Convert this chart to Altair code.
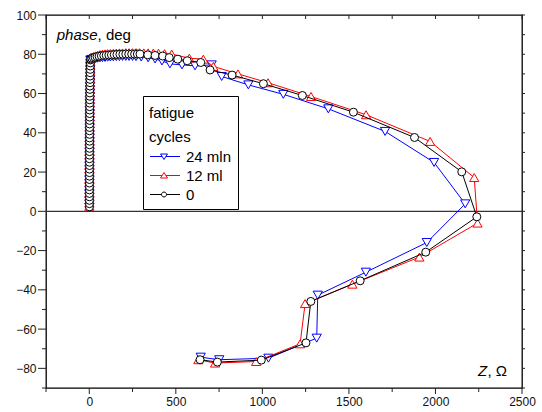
import altair as alt
import pandas as pd

# ---------------- data ----------------
series_names = ["24 mln", "12 ml", "0"]
series_colors = ["#0000ff", "#ff0000", "#000000"]
series_shapes = ["triangle-down", "triangle-up", "circle"]

# near-vertical column at Z ~ 0
stack_z = [0.8, 0.8, 0.9, 0.9, 0.9, 1.0, 1.0, 1.0, 1.1, 1.1, 1.2, 1.2, 1.3, 1.3, 1.4,
           1.4, 1.5, 1.6, 1.6, 1.7, 1.8, 1.9, 2.0, 2.1, 2.2, 2.3, 2.4, 2.6, 2.7, 2.9,
           3.0, 3.2, 3.4, 3.6, 3.8, 4.0, 4.3, 4.5, 4.8, 5.1, 5.4, 5.7, 6.0, 6.4]
stack_ph_24 = [2.0, 3.6, 5.3, 7.1, 8.8, 10.6, 12.3, 14.1, 15.9, 17.6, 19.4, 21.2, 23.0, 24.7,
               26.5, 28.3, 30.1, 31.8, 33.6, 35.4, 37.1, 38.9, 40.7, 42.4, 44.2, 46.0, 47.7,
               49.5, 51.3, 53.0, 54.8, 56.5, 58.3, 60.0, 61.8, 63.5, 65.2, 66.9, 68.6, 70.3,
               72.0, 73.7, 75.3, 76.8]
stack_ph_12 = [2.6, 4.2, 5.9, 7.7, 9.4, 11.2, 12.9, 14.7, 16.5, 18.2, 20.0, 21.8, 23.6, 25.3,
               27.1, 28.9, 30.7, 32.4, 34.2, 36.0, 37.7, 39.5, 41.3, 43.0, 44.8, 46.6, 48.3,
               50.1, 51.9, 53.6, 55.4, 57.1, 58.9, 60.6, 62.4, 64.1, 65.8, 67.6, 69.3, 71.1,
               72.8, 74.6, 76.3, 77.9]
stack_ph_0 = [2.3, 3.9, 5.6, 7.4, 9.1, 10.9, 12.6, 14.4, 16.2, 17.9, 19.7, 21.5, 23.3, 25.0,
              26.8, 28.6, 30.4, 32.1, 33.9, 35.7, 37.4, 39.2, 41.0, 42.7, 44.5, 46.3, 48.0,
              49.8, 51.6, 53.3, 55.1, 56.8, 58.6, 60.3, 62.1, 63.8, 65.5, 67.2, 68.9, 70.6,
              72.3, 74.0, 75.6, 77.1]

# dense band near phase 80
band_z_24 = [8, 16, 26, 37, 49, 62, 76, 91, 106, 122, 139, 156, 174, 192, 211, 230, 250, 270]
band_ph_24 = [77.2, 77.4, 77.6, 77.8, 78.0, 78.2, 78.3, 78.4, 78.5, 78.6, 78.7, 78.8, 78.8,
              78.9, 78.9, 78.9, 78.9, 78.8]
band_z_12 = [8, 16, 26, 37, 49, 62, 76, 91, 106, 122, 139, 156, 174, 192, 211, 230, 250, 270,
             290, 315, 340, 370, 400, 435]
band_ph_12 = [78.3, 78.6, 78.9, 79.2, 79.5, 79.8, 80.0, 80.2, 80.3, 80.4, 80.5, 80.6, 80.7,
              80.7, 80.8, 80.8, 80.8, 80.8, 80.8, 80.7, 80.7, 80.6, 80.5, 80.3]
band_z_0 = [8, 15, 24, 34, 45, 57, 70, 84, 98, 113, 128, 144, 160, 177, 194, 211, 228, 245,
            262, 278]
band_ph_0 = [77.6, 77.9, 78.2, 78.5, 78.8, 79.0, 79.2, 79.4, 79.5, 79.6, 79.7, 79.8, 79.9,
             80.0, 80.0, 80.1, 80.1, 80.1, 80.1, 80.1]

# sparse points along the loop
tail_z_24 = [300, 340, 380, 420, 466, 536, 611, 707, 765, 919, 1121, 1381, 1709, 1992, 2172,
             1950, 1598, 1320, 1314, 1035, 751, 644]
tail_ph_24 = [78.6, 78.2, 77.6, 76.6, 75.1, 74.6, 74.1, 74.6, 68.7, 64.4, 59.6, 52.2, 40.7,
              24.9, 3.8, -15.9, -31.0, -42.7, -64.6, -74.8, -75.6, -74.3]
tail_z_12 = [476, 578, 659, 717, 859, 1033, 1281, 1599, 1969, 2224, 2243, 1907, 1520, 1247,
             1218, 964, 727, 630]
tail_ph_12 = [80.1, 78.0, 77.5, 73.8, 70.0, 65.5, 58.5, 49.2, 35.6, 17.2, -6.0, -23.3, -37.1,
              -47.0, -67.5, -76.5, -77.3, -75.6]
tail_z_0 = [293, 338, 380, 424, 462, 511, 566, 644, 698, 825, 1006, 1231, 1526, 1879, 2152,
            2239, 1944, 1565, 1280, 1252, 994, 740, 640]
tail_ph_0 = [80.1, 79.7, 79.4, 79.1, 78.3, 77.5, 76.7, 75.8, 72.0, 69.4, 65.0, 59.0, 50.5,
             37.6, 20.1, -2.8, -20.8, -35.4, -45.9, -67.0, -75.8, -76.8, -75.6]

x_label_values = [0, 500, 1000, 1500, 2000, 2500]
x_minor_values = [-250, 250, 750, 1250, 1750, 2250]
y_label_values = [-80, -60, -40, -20, 0, 20, 40, 60, 80, 100]
y_minor_values = [-90, -70, -50, -30, -10, 10, 30, 50, 70, 90]
zero_line = [0]

# ---------------- tables ----------------
def build(name, zs, phs):
    return pd.DataFrame({"Z": zs, "phase": phs, "series": name, "i": list(range(len(zs)))})

dfs = {
    "24 mln": build("24 mln", stack_z + band_z_24 + tail_z_24, stack_ph_24 + band_ph_24 + tail_ph_24),
    "12 ml": build("12 ml", stack_z + band_z_12 + tail_z_12, stack_ph_12 + band_ph_12 + tail_ph_12),
    "0": build("0", stack_z + band_z_0 + tail_z_0, stack_ph_0 + band_ph_0 + tail_ph_0),
}
all_df = pd.concat(list(dfs.values()), ignore_index=True)

W, H = 476, 373
FONT = "Liberation Sans"

xscale = alt.Scale(domain=[-250, 2500], nice=False, zero=False)
yscale = alt.Scale(domain=[-90, 100], nice=False, zero=False)

x_axis = alt.Axis(values=x_label_values, ticks=False, domain=False, grid=False, title=None,
                  labelFont=FONT, labelFontSize=12, labelColor="#111", labelPadding=8,
                  labelFlush=False, labelOverlap=False, format="d")
y_axis = alt.Axis(values=y_label_values, ticks=False, domain=False, grid=False, title=None,
                  labelFont=FONT, labelFontSize=12, labelColor="#111", labelPadding=10,
                  labelFlush=False, labelOverlap=False, format="d")


def X(field):
    return alt.X(field, scale=xscale, axis=x_axis)


def Y(field):
    return alt.Y(field, scale=yscale, axis=y_axis)


layers = []

# zero line
layers.append(
    alt.Chart(pd.DataFrame({"phase": zero_line})).mark_rule(color="#333", strokeWidth=1.3)
    .encode(y=Y("phase:Q"))
)

for name, col, shp in zip(series_names, series_colors, series_shapes):
    d = dfs[name]
    layers.append(
        alt.Chart(d).mark_line(color=col, strokeWidth=1)
        .encode(x=X("Z:Q"), y=Y("phase:Q"), order=alt.Order("i:Q"))
    )
    size = 64 if shp == "circle" else 85
    layers.append(
        alt.Chart(d).mark_point(shape=shp, filled=True, fill="white", stroke=col,
                                strokeWidth=1, size=size, opacity=1, fillOpacity=1)
        .encode(x=X("Z:Q"), y=Y("phase:Q"))
    )

# tick marks
def yticks(vals, x0, x1):
    return alt.Chart(pd.DataFrame({"phase": vals})).mark_rule(color="#222", strokeWidth=1).encode(
        y=Y("phase:Q"), x=alt.value(x0), x2=alt.value(x1))

def xticks(vals, y0, y1):
    return alt.Chart(pd.DataFrame({"Z": vals})).mark_rule(color="#222", strokeWidth=1).encode(
        x=X("Z:Q"), y=alt.value(y0), y2=alt.value(y1))

layers += [
    yticks(y_label_values, -8, 0),
    yticks(y_minor_values, -4, 0),
    yticks(y_label_values + y_minor_values, W, W + 3),
    xticks(x_label_values, H, H + 6),
    xticks(x_minor_values, H, H + 4),
    xticks(x_label_values + x_minor_values, 0, 4),
]

# axis titles inside the plot
def label(txt, x, y, italic=False):
    return alt.Chart(pd.DataFrame({"t": [txt]})).mark_text(
        font=FONT, fontSize=15, fontStyle="italic" if italic else "normal",
        align="left", baseline="middle", color="#000"
    ).encode(text="t:N", x=alt.value(x), y=alt.value(y))

layers += [
    label("phase", 10.7, 20, italic=True),
    label(", deg", 51.6, 20),
    label("Z", 432, 356, italic=True),
    label(", \u03a9", 441.5, 356),
]

# legend (symbols: line + marker, marker centred 1.5 units right of the symbol origin)
circle_poly = ("M2.0,0L1.933,0.25L1.75,0.433L1.5,0.5L1.25,0.433L1.067,0.25L1.0,0"
               "L1.067,-0.25L1.25,-0.433L1.5,-0.5L1.75,-0.433L1.933,-0.25Z")
legend_paths = [
    "M-1.3,0L1.12,0M1.88,0L4.7,0M0.8,-0.5L2.2,-0.5L1.5,0.6Z",
    "M-1.3,0L1.12,0M1.88,0L4.7,0M0.8,0.5L2.2,0.5L1.5,-0.6Z",
    "M-1.3,0L1.0,0M2.0,0L4.7,0" + circle_poly,
]
leg = alt.Legend(orient="none", legendX=97, legendY=81, title=["fatigue", "cycles"],
                 titleFont=FONT, titleFontSize=15, titleFontWeight="normal", titleColor="#000",
                 titleLineHeight=24, titleBaseline="line-top", titlePadding=8,
                 labelFont=FONT, labelFontSize=15,
                 labelColor="#000", labelOffset=22, symbolOffset=0, symbolSize=100,
                 symbolStrokeWidth=1, symbolFillColor="white", rowPadding=3, padding=6,
                 columnPadding=0, strokeColor="#000", fillColor="white")
layers.append(
    alt.Chart(all_df).transform_filter("false").mark_point(strokeWidth=1, size=100, opacity=1)
    .encode(
        x=X("Z:Q"),
        y=Y("phase:Q"),
        color=alt.Color("series:N", scale=alt.Scale(domain=series_names, range=series_colors), legend=leg),
        shape=alt.Shape("series:N", scale=alt.Scale(domain=series_names, range=legend_paths), legend=leg),
    )
)

chart = alt.layer(*layers).properties(
    width=W, height=H,
    autosize=alt.AutoSizeParams(type="none"),
    padding={"left": 46, "top": 15, "right": 20, "bottom": 24},
    background="white",
).configure_view(stroke="#000", strokeWidth=1.3)

chart.save("out.html", embed_options={"renderer": "svg", "actions": False})
